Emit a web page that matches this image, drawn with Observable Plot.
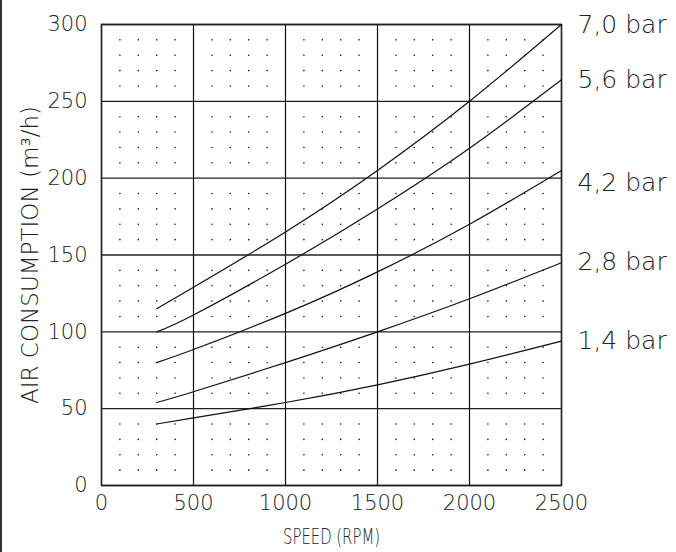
<!DOCTYPE html>
<html>
<head>
<meta charset="utf-8">
<script src="https://cdn.jsdelivr.net/npm/d3@7"></script>
<script src="https://cdn.jsdelivr.net/npm/@observablehq/plot@0.6"></script>
<style>
  html, body { margin: 0; padding: 0; background: #fff; }
  #wrap { position: relative; width: 676px; height: 552px; }
  #edge { position: absolute; left: 0; top: 0; width: 2px; height: 552px; background: #333; }
  svg { display: block; }
</style>
</head>
<body>
<div id="wrap"><div id="edge"></div></div>
<script>
// Speed (RPM) sample points
const speeds = [300, 500, 1000, 1500, 2000, 2500];
// Air consumption (m3/h) per pressure series
const bar70 = [115, 129, 165, 205, 250, 300];
const bar56 = [100, 111, 144, 180, 219.5, 264];
const bar42 = [80, 88.5, 112, 139, 170, 205];
const bar28 = [54, 61, 80, 100, 121.5, 145];
const bar14 = [40, 44, 54, 65.5, 79, 94];
const seriesNames = ["7,0 bar", "5,6 bar", "4,2 bar", "2,8 bar", "1,4 bar"];
const seriesValues = [bar70, bar56, bar42, bar28, bar14];
const labelValues = [300, 264, 197, 145.5, 94];
const xTicks = [0, 500, 1000, 1500, 2000, 2500];
const yTicks = [0, 50, 100, 150, 200, 250, 300];

const lines = seriesNames.flatMap((name, i) =>
  speeds.map((s, j) => ({series: name, speed: s, flow: seriesValues[i][j]})));
const labels = seriesNames.map((name, i) => ({series: name, speed: 2500, flow: labelValues[i]}));

// minor dot grid (every 100 rpm / 10 m3/h, excluding major grid lines)
const minorX = d3.range(100, 2500, 100).filter(v => v % 500 !== 0);
const minorY = d3.range(10, 300, 10).filter(v => v % 50 !== 0);
const dotGrid = minorX.flatMap(x => minorY.map(y => ({x, y})));

const font = "'DejaVu Sans', sans-serif";
const chart = Plot.plot({
  width: 676,
  height: 552,
  marginLeft: 101,
  marginRight: 115,
  marginTop: 24,
  marginBottom: 67,
  style: {fontFamily: font, fontSize: "21px", color: "#222", background: "#fff", fontWeight: 200},
  x: {domain: [0, 2500], ticks: xTicks, tickFormat: d => String(d), tickSize: 0, tickPadding: 10, label: "SPEED (RPM)", labelAnchor: "center", labelOffset: 58, labelArrow: "none"},
  y: {domain: [0, 300], ticks: yTicks, tickFormat: d => String(d), tickSize: 0, tickPadding: 14, label: "AIR CONSUMPTION (m³/h)", labelAnchor: "center", labelOffset: 80, labelArrow: "none"},
  marks: [
    Plot.dot(dotGrid, {x: "x", y: "y", r: 0.8, fill: "#111", stroke: null}),
    Plot.gridX(xTicks, {stroke: "#111", strokeOpacity: 1, strokeWidth: 1.2}),
    Plot.gridY(yTicks, {stroke: "#222", strokeOpacity: 1, strokeWidth: 1.3}),
    Plot.frame({stroke: "#222", strokeWidth: 1.5}),
    Plot.line(lines, {x: "speed", y: "flow", z: "series", curve: "natural", stroke: "#111", strokeWidth: 1.2}),
    Plot.text(labels, {x: "speed", y: "flow", text: "series", textAnchor: "start", dx: 16, fontSize: 25, fill: "#222"})
  ]
});
document.getElementById("wrap").appendChild(chart);

// narrow the axis titles like the drafting font of the original
const xl = d3.select(chart).select('g[aria-label="x-axis label"] text');
xl.style("font-size", "22px").attr("textLength", 97).attr("lengthAdjust", "spacingAndGlyphs");
const yl = d3.select(chart).select('g[aria-label="y-axis label"] text');
yl.style("font-size", "23px").attr("textLength", 298).attr("lengthAdjust", "spacingAndGlyphs");
</script>
</body>
</html>
